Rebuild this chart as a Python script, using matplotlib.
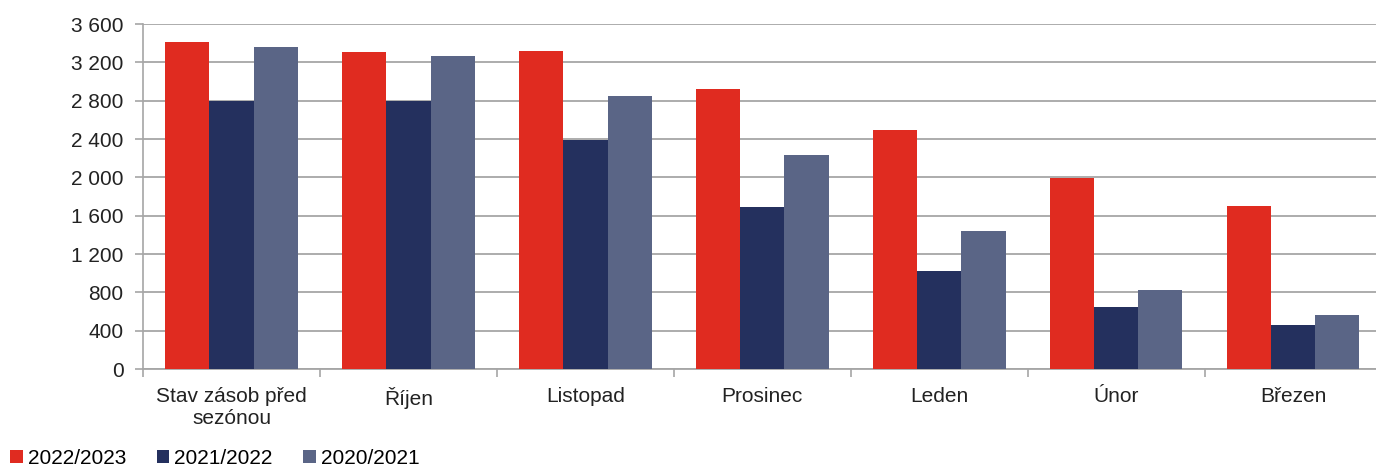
import numpy as np
import matplotlib.pyplot as plt
from matplotlib.ticker import FuncFormatter, FixedLocator

plt.rcParams['font.family'] = ['Liberation Sans', 'DejaVu Sans']

# data
kategorie = ['Stav zásob před\nsezónou', 'Říjen', 'Listopad', 'Prosinec', 'Leden', 'Únor', 'Březen']
sezony = ['2022/2023', '2021/2022', '2020/2021']
s2022 = [3410, 3310, 3320, 2920, 2490, 1990, 1700]
s2021 = [2800, 2800, 2390, 1690, 1020, 650, 460]
s2020 = [3360, 3270, 2850, 2230, 1440, 820, 560]
barvy = ['#e02b20', '#24305e', '#5a6586']

fig = plt.figure(figsize=(13.76, 4.68), dpi=100)
ax = fig.add_axes([0.104, 0.2115, 0.9, 0.737])

x = np.arange(len(kategorie))
w = 0.25
for i, (vals, lab, c) in enumerate(zip([s2022, s2021, s2020], sezony, barvy)):
    ax.bar(x + (i - 1) * w, vals, w, color=c, label=lab, zorder=3)

ax.set_xlim(-0.5, len(kategorie) - 0.5)
ax.set_ylim(0, 3600)
ax.set_yticks(np.arange(0, 3601, 400))
ax.yaxis.set_major_formatter(FuncFormatter(lambda v, p: f"{v:,.0f}".replace(",", " ")))
ax.grid(axis='y', color='#a6a6a6', linewidth=1.3, zorder=0)

ax.set_xticks(x)
ax.set_xticklabels(kategorie, fontsize=15, color='#222222', linespacing=1.2)
ax.xaxis.set_minor_locator(FixedLocator(np.arange(-0.5, len(kategorie), 1)))
ax.tick_params(axis='x', which='major', length=0, pad=13)
ax.tick_params(axis='x', which='minor', length=6, color='#a6a6a6', width=1.2)
ax.tick_params(axis='y', length=6, color='#a6a6a6', width=1.2, labelsize=15, labelcolor='#222222', pad=8)

for s in ['top', 'right']:
    ax.spines[s].set_visible(False)
ax.spines['left'].set_color('#a6a6a6')
ax.spines['left'].set_linewidth(1.2)
ax.spines['bottom'].set_color('#a6a6a6')
ax.spines['bottom'].set_linewidth(1.3)

fig.legend(loc='lower left', bbox_to_anchor=(-0.006, -0.04), ncol=3, frameon=False,
           fontsize=15, handlelength=0.6, handleheight=0.6, handletextpad=0.25,
           columnspacing=1.45)

fig.savefig('out.png', dpi=100)
